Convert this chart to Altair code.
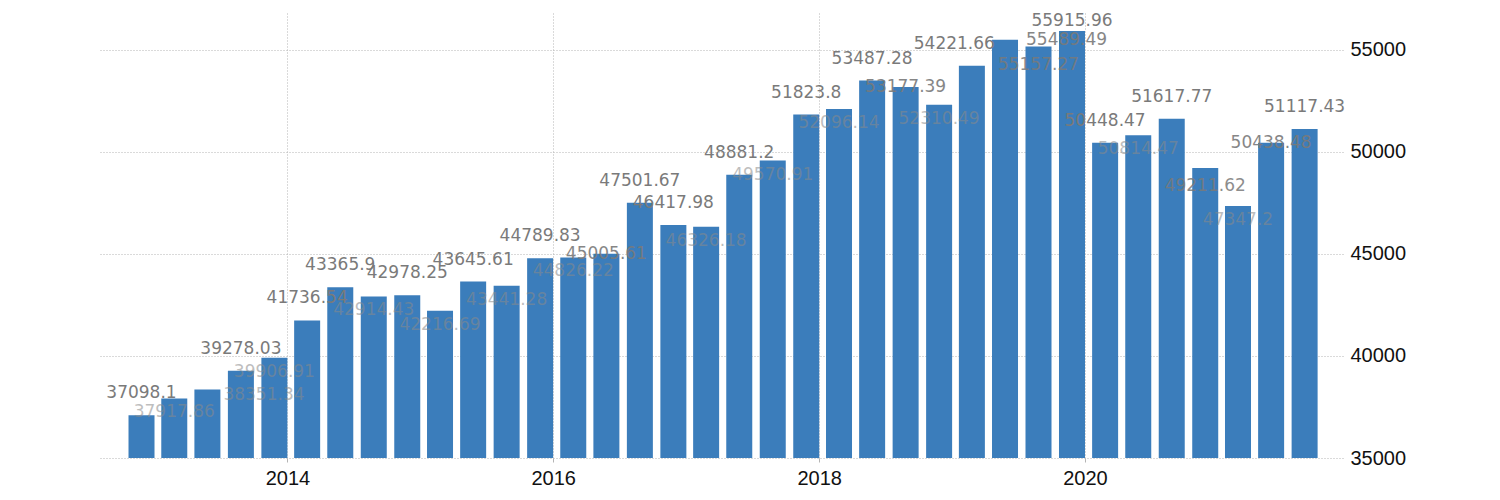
import altair as alt
import pandas as pd

# Quarterly values (bars), 2012Q4 .. 2021Q3
quarters = [
    "2012Q4", "2013Q1", "2013Q2", "2013Q3", "2013Q4",
    "2014Q1", "2014Q2", "2014Q3", "2014Q4",
    "2015Q1", "2015Q2", "2015Q3", "2015Q4",
    "2016Q1", "2016Q2", "2016Q3", "2016Q4",
    "2017Q1", "2017Q2", "2017Q3", "2017Q4",
    "2018Q1", "2018Q2", "2018Q3", "2018Q4",
    "2019Q1", "2019Q2", "2019Q3", "2019Q4",
    "2020Q1", "2020Q2", "2020Q3", "2020Q4",
    "2021Q1", "2021Q2", "2021Q3",
]
values = [
    37098.1, 37917.86, 38351.34, 39278.03, 39906.91,
    41736.54, 43365.9, 42914.43, 42978.25,
    42216.69, 43645.61, 43441.28, 44789.83,
    44826.22, 45005.61, 47501.67, 46417.98,
    46326.18, 48881.2, 49570.91, 51823.8,
    52096.14, 53487.28, 53177.39, 52310.49,
    54221.66, 55489.49, 55157.27, 55915.96,
    50448.47, 50814.47, 51617.77, 49211.62,
    47347.2, 50438.48, 51117.43,
]
# label tier:
# "above" = dark label over the bar, "above_near" = dark label just over the bar,
# "top" = dark label at the bar top, "low" = dark label below the bar top,
# "inside" = faint label over the bar, "faint_right" = faint label shifted right,
# "above_left"/"top_right" = shifted labels
label_place = [
    "above", "inside", "faint_right", "above", "inside",
    "above", "above", "inside", "above",
    "inside", "above", "inside", "above",
    "inside", "top", "above", "above",
    "inside", "above", "inside", "above",
    "inside", "above", "top", "inside",
    "above_left", "top_right", "low", "above_near",
    "above", "inside", "above", "low",
    "inside", "top", "above",
]
year_ticks = [2014, 2016, 2018, 2020]
y_ticks = [35000, 40000, 45000, 50000, 55000]

ends = [
    (pd.Period(q, freq="Q").end_time + pd.Timedelta(1, "ns")).strftime("%Y-%m-%dT00:00:00")
    for q in quarters
]
df = pd.DataFrame({
    "date": ends,
    "value": values,
    "label": [str(v) for v in values],
    "place": label_place,
})

GRID = "#b4b4b4"

x_enc = alt.X(
    "date:T",
    scale=alt.Scale(
        domain=[alt.DateTime(year=2012, month=8, date=18),
                alt.DateTime(year=2021, month=11, date=26)]
    ),
    axis=alt.Axis(
        values=[alt.DateTime(year=y, month=1, date=1) for y in year_ticks],
        format="%Y",
        title=None,
        domain=False,
        grid=True,
        gridColor=GRID,
        gridDash=[1, 2],
        ticks=True,
        tickSize=4,
        tickColor=GRID,
        labelFont="Liberation Sans",
        labelFontSize=20,
        labelColor="#111111",
        labelPadding=6,
    ),
)
y_scale = alt.Scale(domain=[35000, 56800], nice=False, zero=False)
y_enc = alt.Y(
    "value:Q",
    scale=y_scale,
    axis=alt.Axis(
        orient="right",
        values=y_ticks,
        format="d",
        title=None,
        domain=False,
        ticks=False,
        grid=True,
        gridColor=GRID,
        gridDash=[1, 2],
        labelFont="Liberation Sans",
        labelFontSize=20,
        labelColor="#111111",
        labelPadding=7,
    ),
)

bars = alt.Chart(df).mark_bar(width=26, xOffset=-13, color="#3b7dbb").encode(
    x=x_enc,
    y=y_enc,
    y2=alt.datum(35000),
)


def labels(place, dy, color, opacity, align="center", xoff=-13):
    return alt.Chart(df).transform_filter(alt.datum.place == place).mark_text(
        xOffset=xoff, dy=dy, baseline="middle", align=align,
        font="DejaVu Sans", fontSize=17, color=color, opacity=opacity,
    ).encode(x="date:T", y=alt.Y("value:Q", scale=y_scale), text="label:N")


DARK = "#7a7a7a"
FAINT = "#8a8a8a"
layers = [
    bars,
    labels("above", -22, DARK, 1.0),
    labels("above_near", -10, DARK, 1.0),
    labels("top", 0, DARK, 0.9),
    labels("low", 18, DARK, 0.85),
    labels("inside", 14, FAINT, 0.55),
    labels("faint_right", 5, FAINT, 0.55, align="left", xoff=3),
    labels("above_left", -22, DARK, 1.0, align="right", xoff=10),
    labels("top_right", 0, DARK, 0.9, align="left", xoff=8),
]

chart = alt.layer(*layers).properties(
    width=1243,
    height=445,
    background="white",
    autosize=alt.AutoSizeParams(type="none"),
    padding={"left": 92, "top": 5, "right": 90, "bottom": 40},
).configure_view(strokeWidth=0, stroke="transparent")

chart.save("out.html", embed_options={"renderer": "svg", "actions": False})
